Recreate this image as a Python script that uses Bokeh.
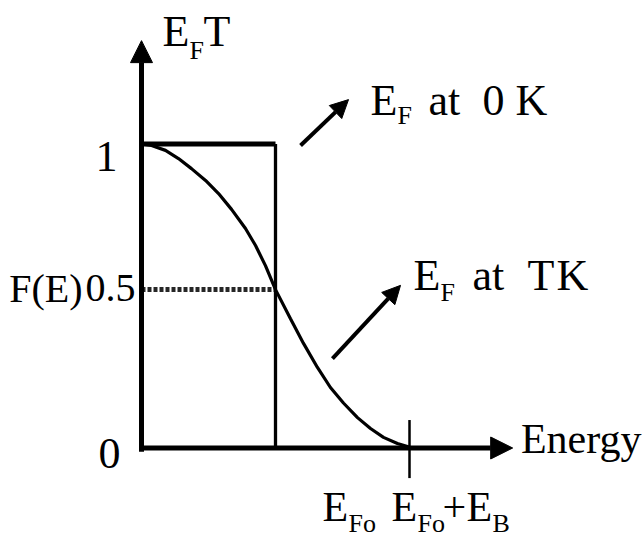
from bokeh.plotting import figure
from bokeh.models import Range1d, Arrow, NormalHead
from bokeh.core.properties import value
from bokeh.embed import file_html
from bokeh.resources import INLINE

# ---- data (energy in units of E_F0, occupancy F(E)) ----
energy = [0.0, 0.075, 0.179, 0.276, 0.373, 0.478, 0.575, 0.672, 0.776, 0.851, 0.925, 1.0,
          1.112, 1.209, 1.313, 1.410, 1.507, 1.612, 1.709, 1.806, 1.910, 1.985, 2.0]
f_T = [1.0, 0.995, 0.979, 0.952, 0.919, 0.880, 0.837, 0.785, 0.722, 0.666, 0.600, 0.521,
       0.425, 0.344, 0.265, 0.199, 0.148, 0.100, 0.064, 0.035, 0.015, 0.005, 0.0]
step_x = [0.0, 1.0]               # F(E) at 0 K: 1 up to E_F0
step_y = [1.0, 1.0]
E_F0 = 1.0
E_F0_plus_EB = 2.0
half_level = 0.521                # level of the dotted "0.5" line as drawn
y_axis_top = 1.34
x_axis_end = 2.77
y_tick_labels = ["1", "0.5", "0"]

FONT = value("Liberation Serif")

# pixel mapping: 644x539 canvas, origin at px (141, 447.5)
PX_X, PX_Y = 134.0, 304.0
W, H = 644, 539
x_start = -141 / PX_X
y_end = 447.5 / PX_Y
p = figure(width=W, height=H, output_backend="svg", toolbar_location=None,
           x_range=Range1d(x_start, x_start + W / PX_X),
           y_range=Range1d(y_end - H / PX_Y, y_end),
           x_axis_type=None, y_axis_type=None, min_border=0)
p.grid.visible = False
p.outline_line_color = None
p.background_fill_color = "white"
p.border_fill_color = "white"

# step function at 0 K
p.line(step_x, step_y, line_color="black", line_width=5)
p.line([E_F0, E_F0], [1.0, 0.0], line_color="black", line_width=3.3)
# dotted line at 0.5
p.line([0.0, E_F0], [half_level, half_level], line_color="black", line_width=5, line_dash="4 2",
       line_alpha=0.85)
# curve at T K
p.line(energy, f_T, line_color="black", line_width=3.2)
# tick at E_F0 + E_B
p.line([E_F0_plus_EB, E_F0_plus_EB], [-0.099, 0.092], line_color="black", line_width=2.5)

# axes with arrows
p.add_layout(Arrow(end=NormalHead(size=22, fill_color="black", line_color="black"),
                   x_start=0, y_start=-0.012, x_end=0, y_end=y_axis_top,
                   line_width=5, line_color="black"))
p.add_layout(Arrow(end=NormalHead(size=22, fill_color="black", line_color="black"),
                   x_start=-0.018, y_start=0, x_end=x_axis_end, y_end=0,
                   line_width=5, line_color="black"))
# pointer arrows
p.add_layout(Arrow(end=NormalHead(size=18, fill_color="black", line_color="black"),
                   x_start=1.187, y_start=0.995, x_end=1.545, y_end=1.146,
                   line_width=4, line_color="black"))
p.add_layout(Arrow(end=NormalHead(size=18, fill_color="black", line_color="black"),
                   x_start=1.425, y_start=0.294, x_end=1.933, y_end=0.535,
                   line_width=4, line_color="black"))

def txt(x, y, s, size, align="left"):
    # y is the intended baseline; compensate the renderer's baseline placement
    y_adj = y + 0.39 * size / PX_Y
    p.text(x=[x], y=[y_adj], text=[s], text_font=FONT, text_font_size=f"{size}px",
           text_align=align, text_baseline="alphabetic", text_color="black")

BIG, SUB = 44, 26
# y-axis title E_F T
txt(0.157, 1.314, "E", BIG)
txt(0.358, 1.275, "F", SUB)
txt(0.463, 1.314, "T", BIG)
# tick labels
txt(-0.179, 0.903, y_tick_labels[0], BIG, "right")
txt(-0.045, 0.475, y_tick_labels[1], 40, "right")
txt(-0.440, 0.475, "F(E)", 40, "right")
txt(-0.157, -0.074, y_tick_labels[2], BIG, "right")
# E_F at 0 K
txt(1.709, 1.087, "E", BIG)
txt(1.910, 1.061, "F", SUB)
txt(2.142, 1.087, "at", BIG)
txt(2.545, 1.087, "0", BIG)
txt(2.791, 1.087, "K", BIG)
# E_F at T K
txt(2.030, 0.512, "E", BIG)
txt(2.231, 0.479, "F", SUB)
txt(2.470, 0.512, "at", BIG)
txt(2.881, 0.512, "T", BIG)
txt(3.097, 0.512, "K", BIG)
# x labels
txt(1.351, -0.248, "E", 42)
txt(1.545, -0.281, "Fo", SUB)
txt(1.866, -0.248, "E", 42)
txt(2.060, -0.281, "Fo", SUB)
txt(2.246, -0.248, "+", 42)
txt(2.425, -0.248, "E", 42)
txt(2.619, -0.281, "B", SUB)
txt(3.731, -0.025, "Energy", 42, "right")

open("out.html", "w").write(file_html(p, INLINE))
